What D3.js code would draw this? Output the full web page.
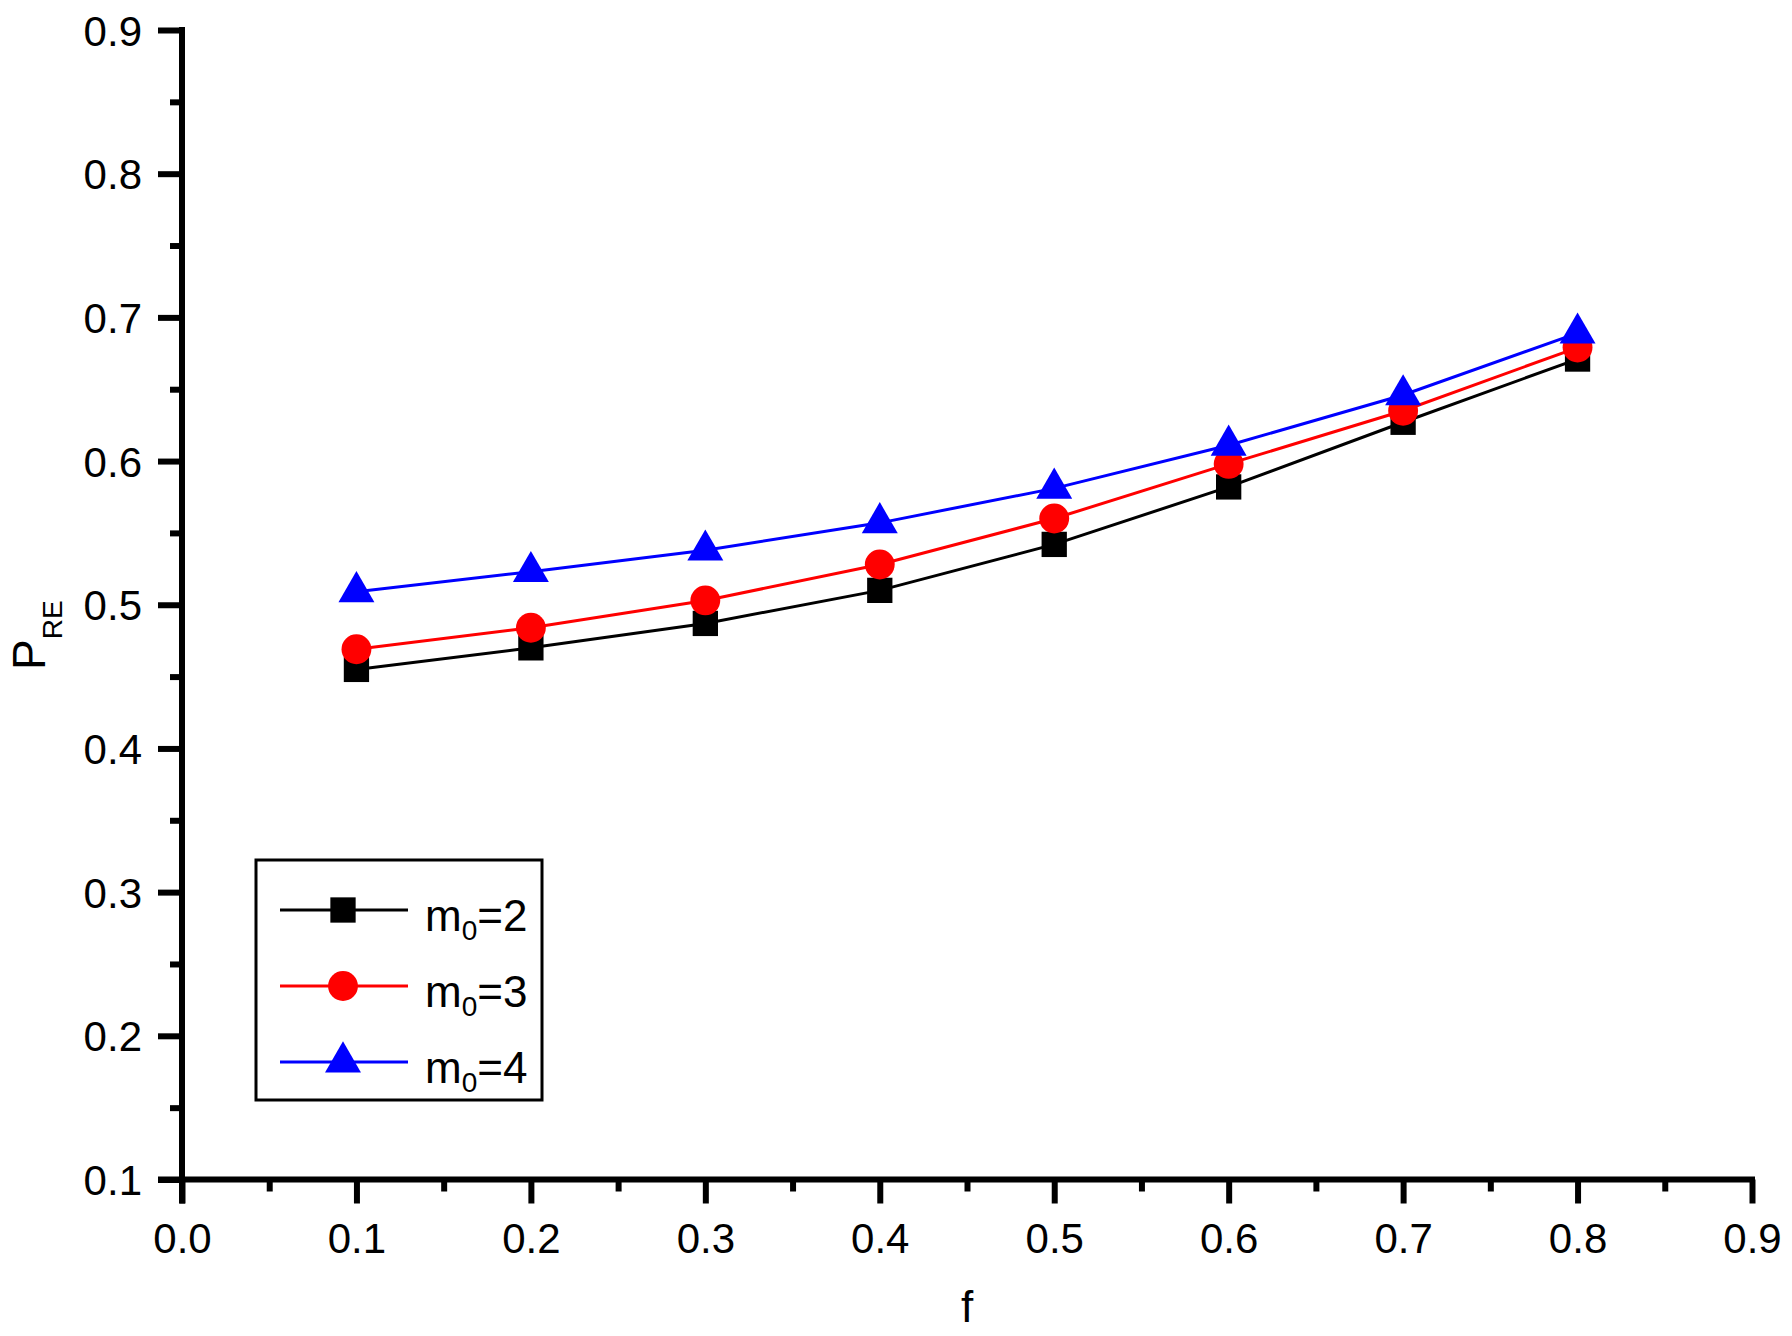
<!DOCTYPE html>
<html>
<head>
<meta charset="utf-8">
<script src="https://cdn.jsdelivr.net/npm/d3@7"></script>
<style>
  html, body { margin: 0; padding: 0; background: #fff; }
  svg { display: block; font-family: "Liberation Sans", Arial, sans-serif; }
</style>
</head>
<body>
<svg id="chart" width="1792" height="1336"></svg>
<script>
// ---- data ----
const fValues = [0.1, 0.2, 0.3, 0.4, 0.5, 0.6, 0.7, 0.8];
const m0_2 = [0.455, 0.470, 0.487, 0.510, 0.542, 0.582, 0.627, 0.671];
const m0_3 = [0.469, 0.484, 0.503, 0.528, 0.560, 0.598, 0.635, 0.679];
const m0_4 = [0.509, 0.523, 0.538, 0.557, 0.581, 0.611, 0.646, 0.689];
const seriesNames = ["2", "3", "4"];
const xTicks = [0.0, 0.1, 0.2, 0.3, 0.4, 0.5, 0.6, 0.7, 0.8, 0.9];
const yTicks = [0.1, 0.2, 0.3, 0.4, 0.5, 0.6, 0.7, 0.8, 0.9];
const xMinor = [0.05, 0.15, 0.25, 0.35, 0.45, 0.55, 0.65, 0.75, 0.85];
const yMinor = [0.15, 0.25, 0.35, 0.45, 0.55, 0.65, 0.75, 0.85];

const series = [
  { name: seriesNames[0], values: m0_2, color: "#000000", symbol: d3.symbolSquare, size: 640 },
  { name: seriesNames[1], values: m0_3, color: "#ff0000", symbol: d3.symbolCircle, size: 700 },
  { name: seriesNames[2], values: m0_4, color: "#0000ff", symbol: d3.symbolTriangle, size: 560 }
];

const svg = d3.select("#chart");
const pLeft = 182, pRight = 1752, pTop = 30, pBottom = 1179.5;

const x = d3.scaleLinear().domain([0, 0.9]).range([pLeft, pRight]);
const y = d3.scaleLinear().domain([0.1, 0.9]).range([pBottom, pTop]);

const axisW = 6;

// Minor ticks
const gxMinor = svg.append("g").attr("transform", `translate(0,${pBottom})`)
  .call(d3.axisBottom(x).tickValues(xMinor).tickSize(12).tickFormat(""));
const gyMinor = svg.append("g").attr("transform", `translate(${pLeft},0)`)
  .call(d3.axisLeft(y).tickValues(yMinor).tickSize(12).tickFormat(""));

// Major axes
const gx = svg.append("g").attr("transform", `translate(0,${pBottom})`)
  .call(d3.axisBottom(x).tickValues(xTicks).tickSize(24).tickSizeOuter(0).tickPadding(20).tickFormat(d3.format(".1f")));
const gy = svg.append("g").attr("transform", `translate(${pLeft},0)`)
  .call(d3.axisLeft(y).tickValues(yTicks).tickSize(24).tickSizeOuter(0).tickPadding(16).tickFormat(d3.format(".1f")));

[gxMinor, gyMinor].forEach(g => { g.select(".domain").remove(); g.selectAll("line").attr("stroke", "#000").attr("stroke-width", axisW); });
[gx, gy].forEach(g => {
  g.select(".domain").attr("stroke", "#000").attr("stroke-width", axisW);
  g.selectAll("line").attr("stroke", "#000").attr("stroke-width", axisW);
  g.selectAll("text").attr("font-size", 42).attr("font-family", "'Liberation Sans', Arial, sans-serif").attr("fill", "#000");
});
gx.select(".domain").attr("d", `M${pLeft - 24},0H${pRight + axisW/2}`);
gy.select(".domain").attr("d", `M0,${pBottom + 24}V${pTop - axisW/2}`);
gy.selectAll("text").attr("dy", "0.36em");
gx.selectAll("text").attr("dy", "0.71em");

// Axis titles
svg.append("text").attr("x", (pLeft + pRight) / 2).attr("y", 1322)
  .attr("text-anchor", "middle").attr("font-size", 44).text("f");

const yl = svg.append("text").attr("transform", "translate(45,670) rotate(-90)")
  .attr("font-size", 46);
yl.append("tspan").text("P");
yl.append("tspan").attr("font-size", 28).attr("dy", 17).text("RE");

// Series
const line = d3.line().x((d, i) => x(fValues[i])).y(d => y(d));
series.forEach(s => {
  svg.append("path").datum(s.values).attr("d", line)
    .attr("fill", "none").attr("stroke", s.color).attr("stroke-width", 3);
  svg.selectAll(null).data(s.values).enter().append("path")
    .attr("transform", (d, i) => `translate(${x(fValues[i])},${y(d)})`)
    .attr("d", d3.symbol().type(s.symbol).size(s.size))
    .attr("fill", s.color);
});

// Legend
const lg = svg.append("g");
lg.append("rect").attr("x", 256).attr("y", 860).attr("width", 286).attr("height", 240)
  .attr("fill", "#fff").attr("stroke", "#000").attr("stroke-width", 3);
const rowY = [910, 986, 1062];
series.forEach((s, i) => {
  const ry = rowY[i];
  lg.append("line").attr("x1", 280).attr("x2", 408).attr("y1", ry).attr("y2", ry)
    .attr("stroke", s.color).attr("stroke-width", 3);
  lg.append("path").attr("transform", `translate(343,${ry})`)
    .attr("d", d3.symbol().type(s.symbol).size(s.size)).attr("fill", s.color);
  const t = lg.append("text").attr("x", 425).attr("y", ry + 21).attr("font-size", 44);
  t.append("tspan").text("m");
  t.append("tspan").attr("font-size", 28).attr("dy", 9).text("0");
  t.append("tspan").attr("dy", -9).text("=" + s.name);
});
</script>
</body>
</html>
